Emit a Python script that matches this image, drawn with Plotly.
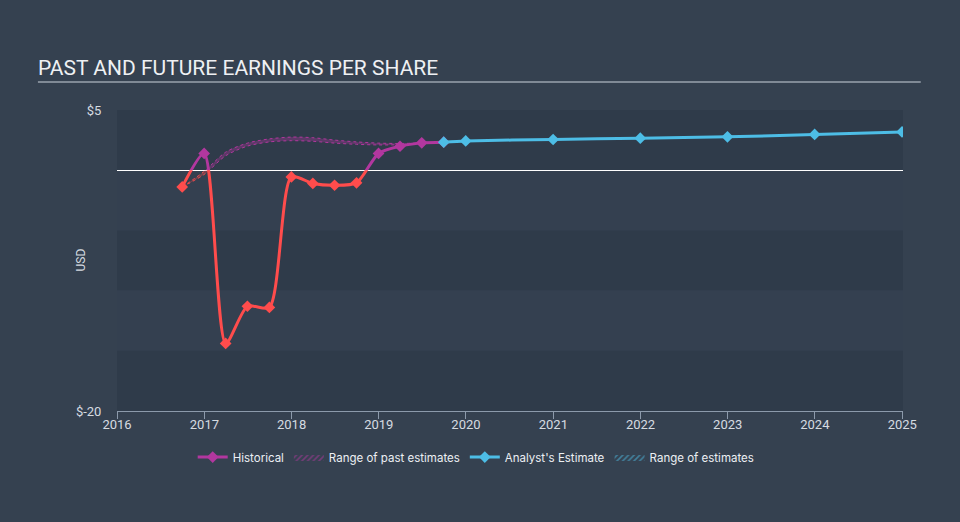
import plotly.graph_objects as go

# ---------------- data ----------------
hist_dates = ['2016-09-30', '2016-12-31', '2017-03-31', '2017-06-30', '2017-09-30',
              '2017-12-31', '2018-03-31', '2018-06-30', '2018-09-30', '2018-12-31',
              '2019-03-31', '2019-06-30', '2019-09-30']
hist_eps = [-1.39, 1.39, -14.39, -11.3, -11.4, -0.56, -1.1, -1.25, -1.05, 1.39,
            1.99, 2.27, 2.33]

past_range_dates = ['2016-09-30', '2016-12-31', '2017-03-31', '2017-06-30', '2017-09-30',
                    '2017-12-31', '2018-03-31', '2018-06-30', '2018-09-30', '2018-12-31',
                    '2019-03-31', '2019-06-30']
past_range_low = [-1.39, -0.35, 1.2, 2.0, 2.35, 2.45, 2.4, 2.25, 2.15, 2.1, 2.12, 2.27]
past_range_high = [-1.39, -0.1, 1.5, 2.25, 2.6, 2.75, 2.7, 2.5, 2.35, 2.25, 2.22, 2.27]

est_dates = ['2019-09-30', '2019-12-31', '2020-12-31', '2021-12-31', '2022-12-31',
             '2023-12-31', '2024-12-31']
est_eps = [2.33, 2.43, 2.55, 2.66, 2.77, 2.97, 3.18]

y_tick_vals = [5, -20]
y_tick_text = ['$5', '$-20']
x_tick_vals = ['2016-01-01', '2017-01-01', '2018-01-01', '2019-01-01', '2020-01-01',
               '2021-01-01', '2022-01-01', '2023-01-01', '2024-01-01', '2025-01-01']
x_tick_text = ['2016', '2017', '2018', '2019', '2020', '2021', '2022', '2023', '2024', '2025']
band_edges = [5, 0, -5, -10, -15, -20]

# ---------------- style ----------------
RED = '#ff4c4c'
PURPLE = '#b2379f'
BLUE = '#4dbde6'
PAPER = '#354150'
BAND_DARK = '#2f3b4a'
BAND_LIGHT = '#344050'
TXT = '#d6dbe1'
Y_MIN, Y_MAX = -20, 5
split = (0 - Y_MIN) / (Y_MAX - Y_MIN)

fig = go.Figure()

# legend-only entries
fig.add_trace(go.Scatter(x=[None], y=[None], mode='lines+markers', name='Historical',
                         line=dict(color=PURPLE, width=3),
                         marker=dict(symbol='diamond', size=9, color=PURPLE)))
fig.add_trace(go.Scatter(x=[None], y=[None], mode='lines', name='Range of past estimates',
                         fill='toself', fillcolor='rgba(0,0,0,0)',
                         fillpattern=dict(shape='/', fgcolor=PURPLE, bgcolor='rgba(0,0,0,0)', size=4, solidity=0.4),
                         line=dict(width=0)))
fig.add_trace(go.Scatter(x=[None], y=[None], mode='lines+markers', name="Analyst's Estimate",
                         line=dict(color=BLUE, width=3),
                         marker=dict(symbol='diamond', size=9, color=BLUE)))
fig.add_trace(go.Scatter(x=[None], y=[None], mode='lines', name='Range of estimates',
                         fill='toself', fillcolor='rgba(0,0,0,0)',
                         fillpattern=dict(shape='/', fgcolor=BLUE, bgcolor='rgba(0,0,0,0)', size=4, solidity=0.4),
                         line=dict(width=0)))

# the same series drawn twice, each clipped to its half (above / below zero)
for yax, col, fillc in (('y2', PURPLE, 'rgba(178,55,159,0.35)'), ('y3', RED, 'rgba(255,76,76,0.3)')):
    fig.add_trace(go.Scatter(x=past_range_dates, y=past_range_low, yaxis=yax, mode='lines',
                             line=dict(color=col, width=1, dash='dot', shape='spline', smoothing=0.8),
                             showlegend=False, hoverinfo='skip'))
    fig.add_trace(go.Scatter(x=past_range_dates, y=past_range_high, yaxis=yax, mode='lines',
                             line=dict(color=col, width=1, dash='dot', shape='spline', smoothing=0.8),
                             fill='tonexty', fillcolor=fillc,
                             showlegend=False, hoverinfo='skip'))
for yax, col in (('y2', PURPLE), ('y3', RED)):
    fig.add_trace(go.Scatter(x=hist_dates, y=hist_eps, yaxis=yax, mode='lines+markers',
                             line=dict(color=col, width=3, shape='spline', smoothing=0.7),
                             marker=dict(symbol='diamond', size=9, color=col),
                             showlegend=False))

fig.add_trace(go.Scatter(x=est_dates, y=est_eps, yaxis='y2', mode='lines+markers',
                         line=dict(color=BLUE, width=3, shape='spline', smoothing=0.7),
                         marker=dict(symbol='diamond', size=9, color=BLUE),
                         showlegend=False))

for i in range(len(band_edges) - 1):
    fig.add_shape(type='rect', xref='paper', yref='y', x0=0, x1=1,
                  y0=band_edges[i + 1], y1=band_edges[i],
                  fillcolor=BAND_DARK if i % 2 == 0 else BAND_LIGHT,
                  line=dict(width=0), layer='below')

# title underline
fig.add_shape(type='line', xref='paper', yref='paper', x0=-0.1006, x1=1.0226,
              y0=1.093, y1=1.093, line=dict(color='#9aa3ae', width=1.5))

fig.add_annotation(text='USD', xref='paper', yref='paper', x=(80 - 117) / 786, y=0.5,
                   textangle=-90, showarrow=False, font=dict(size=12, color=TXT),
                   xanchor='center', yanchor='middle')

fig.update_layout(
    width=960, height=522,
    margin=dict(l=117, r=57, t=110, b=111),
    paper_bgcolor=PAPER, plot_bgcolor='rgba(0,0,0,0)',
    font=dict(family='Roboto', color=TXT, size=12),
    title=dict(text='PAST AND FUTURE EARNINGS PER SHARE', x=38 / 960, xanchor='left',
               xref='container', y=1 - 68 / 522, yanchor='middle',
               font=dict(family='Roboto', size=21, color='#eef0f3')),
    showlegend=True,
    legend=dict(orientation='h', x=0.457, xanchor='center', y=-0.153, yanchor='middle',
                font=dict(family='Inter', size=11.5, color='#eceff3'),
                bgcolor='rgba(0,0,0,0)', itemwidth=30, traceorder='normal'),
    xaxis=dict(type='date', range=['2016-01-01', '2025-01-04'], tickvals=x_tick_vals,
               ticktext=x_tick_text, showgrid=False, showline=True, linecolor='#8c9aab',
               linewidth=1, ticks='outside', ticklen=7, tickcolor='#8c9aab',
               ticklabelstandoff=-6,
               tickfont=dict(size=13, color=TXT), zeroline=False, anchor='y'),
    yaxis=dict(range=[Y_MIN, Y_MAX], tickvals=y_tick_vals, ticktext=y_tick_text,
               showgrid=False, showline=False, zeroline=True, zerolinecolor='#ffffff',
               zerolinewidth=1, ticks='outside', ticklen=12, tickcolor='rgba(0,0,0,0)',
               tickfont=dict(size=13, color=TXT)),
    yaxis2=dict(domain=[split, 1], range=[0, Y_MAX], visible=False, anchor='x'),
    yaxis3=dict(domain=[0, split], range=[Y_MIN, 0], visible=False, anchor='x'),
)

fig.write_html('out.html', config={'displayModeBar': False},
               post_script="document.body.style.margin='0';")
